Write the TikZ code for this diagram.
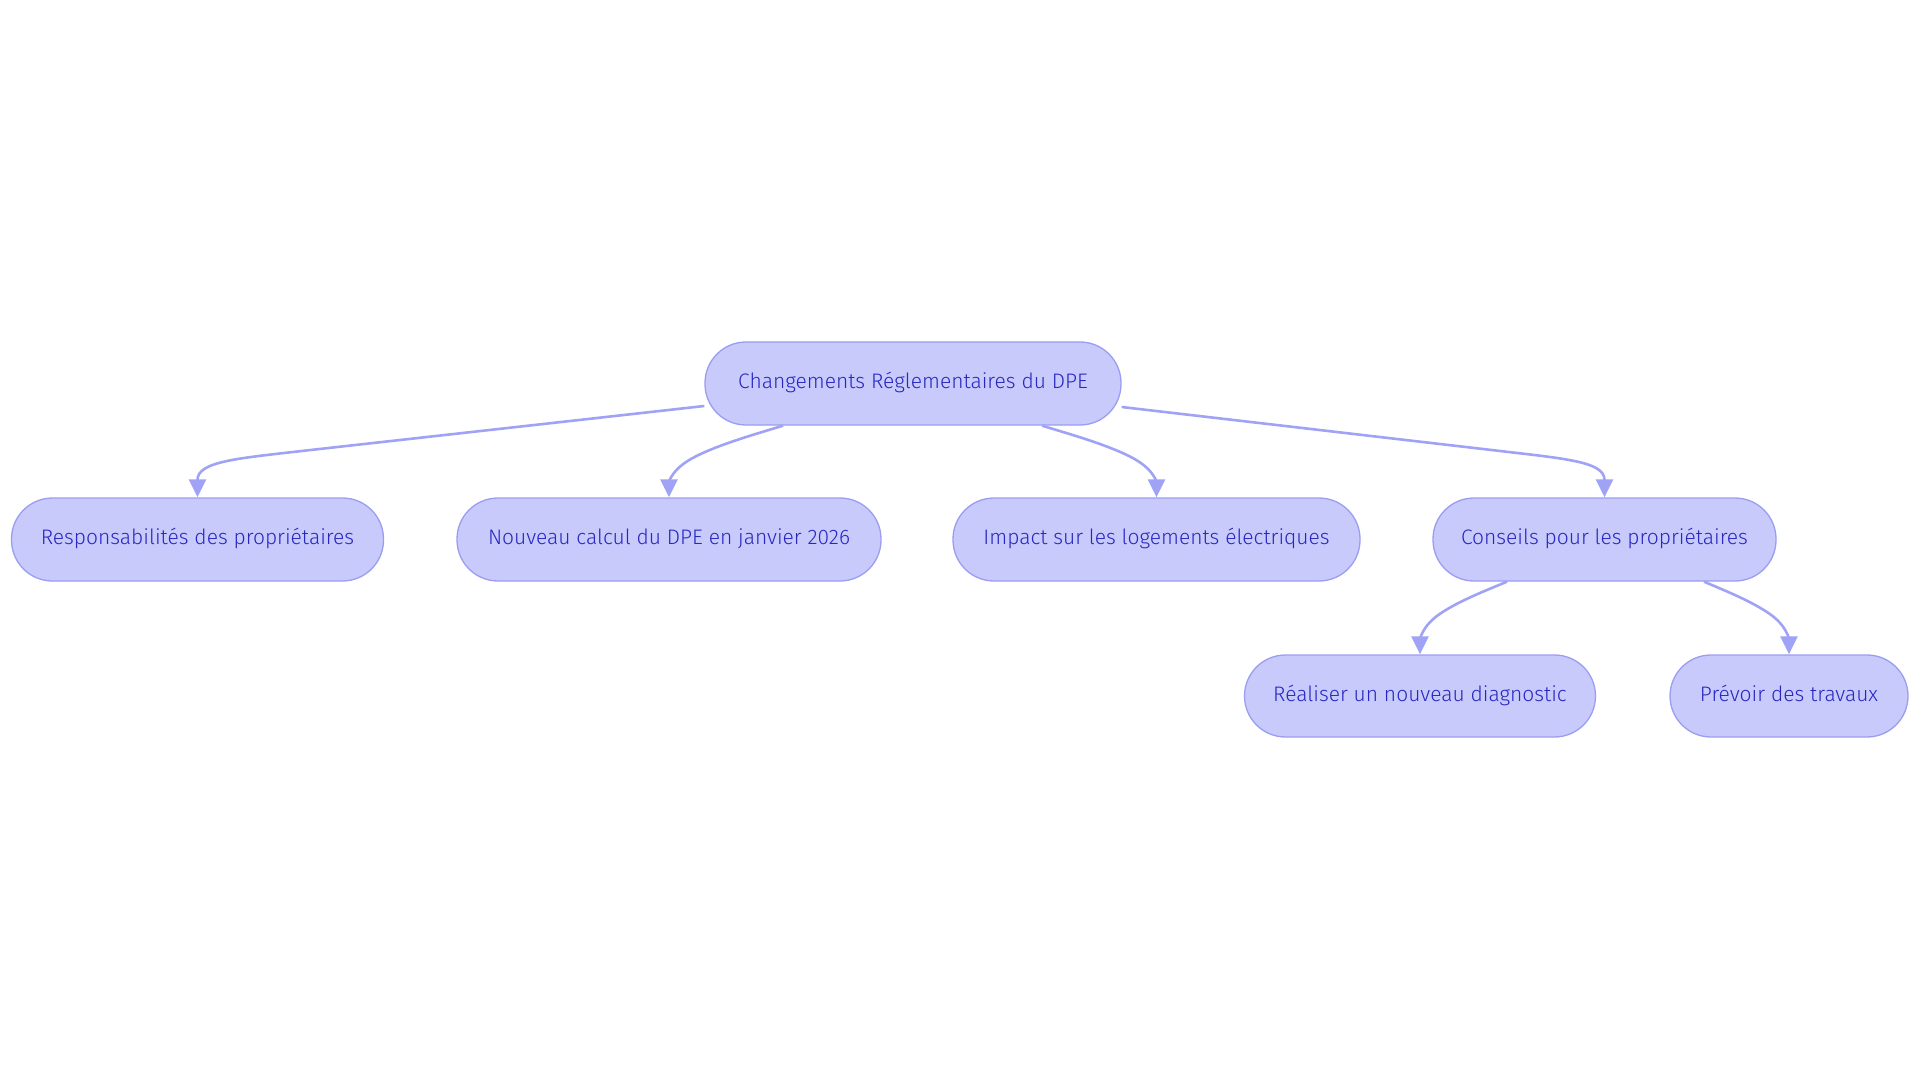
\documentclass[tikz,border=0pt]{standalone}
\usepackage{fontspec}
\setmainfont{Fira Sans Light}
\usetikzlibrary{arrows.meta,calc}
\definecolor{boxfill}{RGB}{200,202,252}
\definecolor{boxline}{RGB}{154,157,240}
\definecolor{edgecol}{RGB}{160,163,245}
\definecolor{txtcol}{RGB}{40,40,192}
\newcommand{\basisedge}[3]{%
  \coordinate (q0) at (#1);
  \coordinate (q2) at (#2);
  \coordinate (q1) at ($(#2)+(0,-#3)$);
  \draw[conn] (q0) -- ($(q0)!0.16667!(q1)$)
    .. controls ($(q0)!0.33333!(q1)$) and ($(q0)!0.66667!(q1)$)
    .. ($0.16667*(q0)+0.66667*(q1)+0.16667*(q2)$)
    .. controls ($(q1)!0.33333!(q2)$) and ($(q1)!0.66667!(q2)$) .. (q2);}
\begin{document}
\begin{tikzpicture}[x=1pt,y=-1pt,
  pill/.style={draw=boxline,line width=1.3pt,fill=boxfill,rounded corners=41pt,
    minimum height=83pt,inner sep=0pt,text=txtcol,font=\fontsize{21}{25}\selectfont,
    text height=10.8pt,text depth=0pt},
  conn/.style={draw=edgecol,line width=2.6pt,-{Triangle[length=18pt,width=17pt]}}]
\useasboundingbox (0,0) rectangle (1920,1083);
\node[pill,minimum width=416pt] (root) at (913,383.5) {Changements Réglementaires du DPE};
\node[pill,minimum width=372pt] (resp) at (197.5,539.5) {Responsabilités des propriétaires};
\node[pill,minimum width=424pt] (newcalc) at (669,539.5) {Nouveau calcul du DPE en janvier 2026};
\node[pill,minimum width=407pt] (impact) at (1156.5,539.5) {Impact sur les logements électriques};
\node[pill,minimum width=343pt] (cons) at (1604.5,539.5) {Conseils pour les propriétaires};
\node[pill,minimum width=351pt,minimum height=82pt] (real) at (1420,696) {Réaliser un nouveau diagnostic};
\node[pill,minimum width=238pt,minimum height=82pt] (prev) at (1789,696) {Prévoir des travaux};
\draw[conn] ($(root.west)+(0,22.5)$) -- ($(resp.north)+(110,-47)$)
  .. controls +(-70,8) and +(0,-36) .. (resp.north);
\basisedge{$(root.south)+(-130,0)$}{newcalc.north}{37}
\basisedge{$(root.south)+(129,0)$}{impact.north}{37}
\draw[conn] ($(root.east)+(0,23.5)$) -- ($(cons.north)+(-110,-47)$)
  .. controls +(70,8.3) and +(0,-36) .. (cons.north);
\basisedge{$(cons.south)+(-97.5,0)$}{real.north}{36.5}
\basisedge{$(cons.south)+(99.5,0)$}{prev.north}{36.5}
\end{tikzpicture}
\end{document}
